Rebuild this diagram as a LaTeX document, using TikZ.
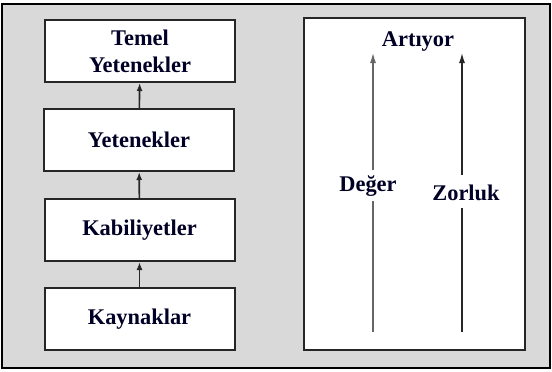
\documentclass[tikz,border=0pt]{standalone}
\usepackage{fontspec}
\setmainfont{Liberation Serif}
\usetikzlibrary{arrows.meta}
\begin{document}
\begin{tikzpicture}[x=0.5pt,y=-0.5pt,
  lbl/.style={font=\fontsize{11.2}{13.5}\selectfont\bfseries, text=black!85!blue, align=center, inner sep=1pt},
  stagebox/.style={draw=black!85, line width=1pt, fill=white, minimum width=95pt, minimum height=31pt, lbl},
  uparrow/.style={-{Latex[length=4pt,width=3pt]}, line width=0.8pt, black!85},
  scalearrow/.style={line width=0.6pt, black!60},
]
\useasboundingbox (0,0) rectangle (552,371);
\draw[line width=1pt, fill=black!15] (2,4) rectangle (550,368);
\node[stagebox] (temel) at (140,51) {Temel\\Yetenekler};
\node[stagebox] (yet) at (139,140) {Yetenekler};
\node[stagebox] (kab) at (139.5,230) {Kabiliyetler};
\node[stagebox] (kay) at (139.5,319) {Kaynaklar};
\draw[uparrow] (yet) -- (temel);
\draw[uparrow] (kab) -- (yet);
\draw[uparrow] (kay) -- (kab);
\node[draw=black!85, line width=1pt, fill=white, minimum width=110.5pt, minimum height=166pt] (panel) at (414.5,184) {};
\node[lbl] (art) at (418,42) {Artıyor};
\node[lbl] (deger) at (368,186) {Değer};
\node[lbl] (zor) at (466,193) {Zorluk};
\coordinate (d0) at (373,332);
\coordinate (d1) at (373,53);
\coordinate (z0) at (462,332);
\coordinate (z1) at (462,53);
\draw[scalearrow] (d0) -- (373,201);
\draw[scalearrow, -{Latex[length=5pt,width=3pt]}] (373,170) -- (d1);
\draw[scalearrow, black!85] (z0) -- (462,208);
\draw[scalearrow, black!85, -{Latex[length=5pt,width=3pt]}] (462,175) -- (z1);
\end{tikzpicture}
\end{document}
